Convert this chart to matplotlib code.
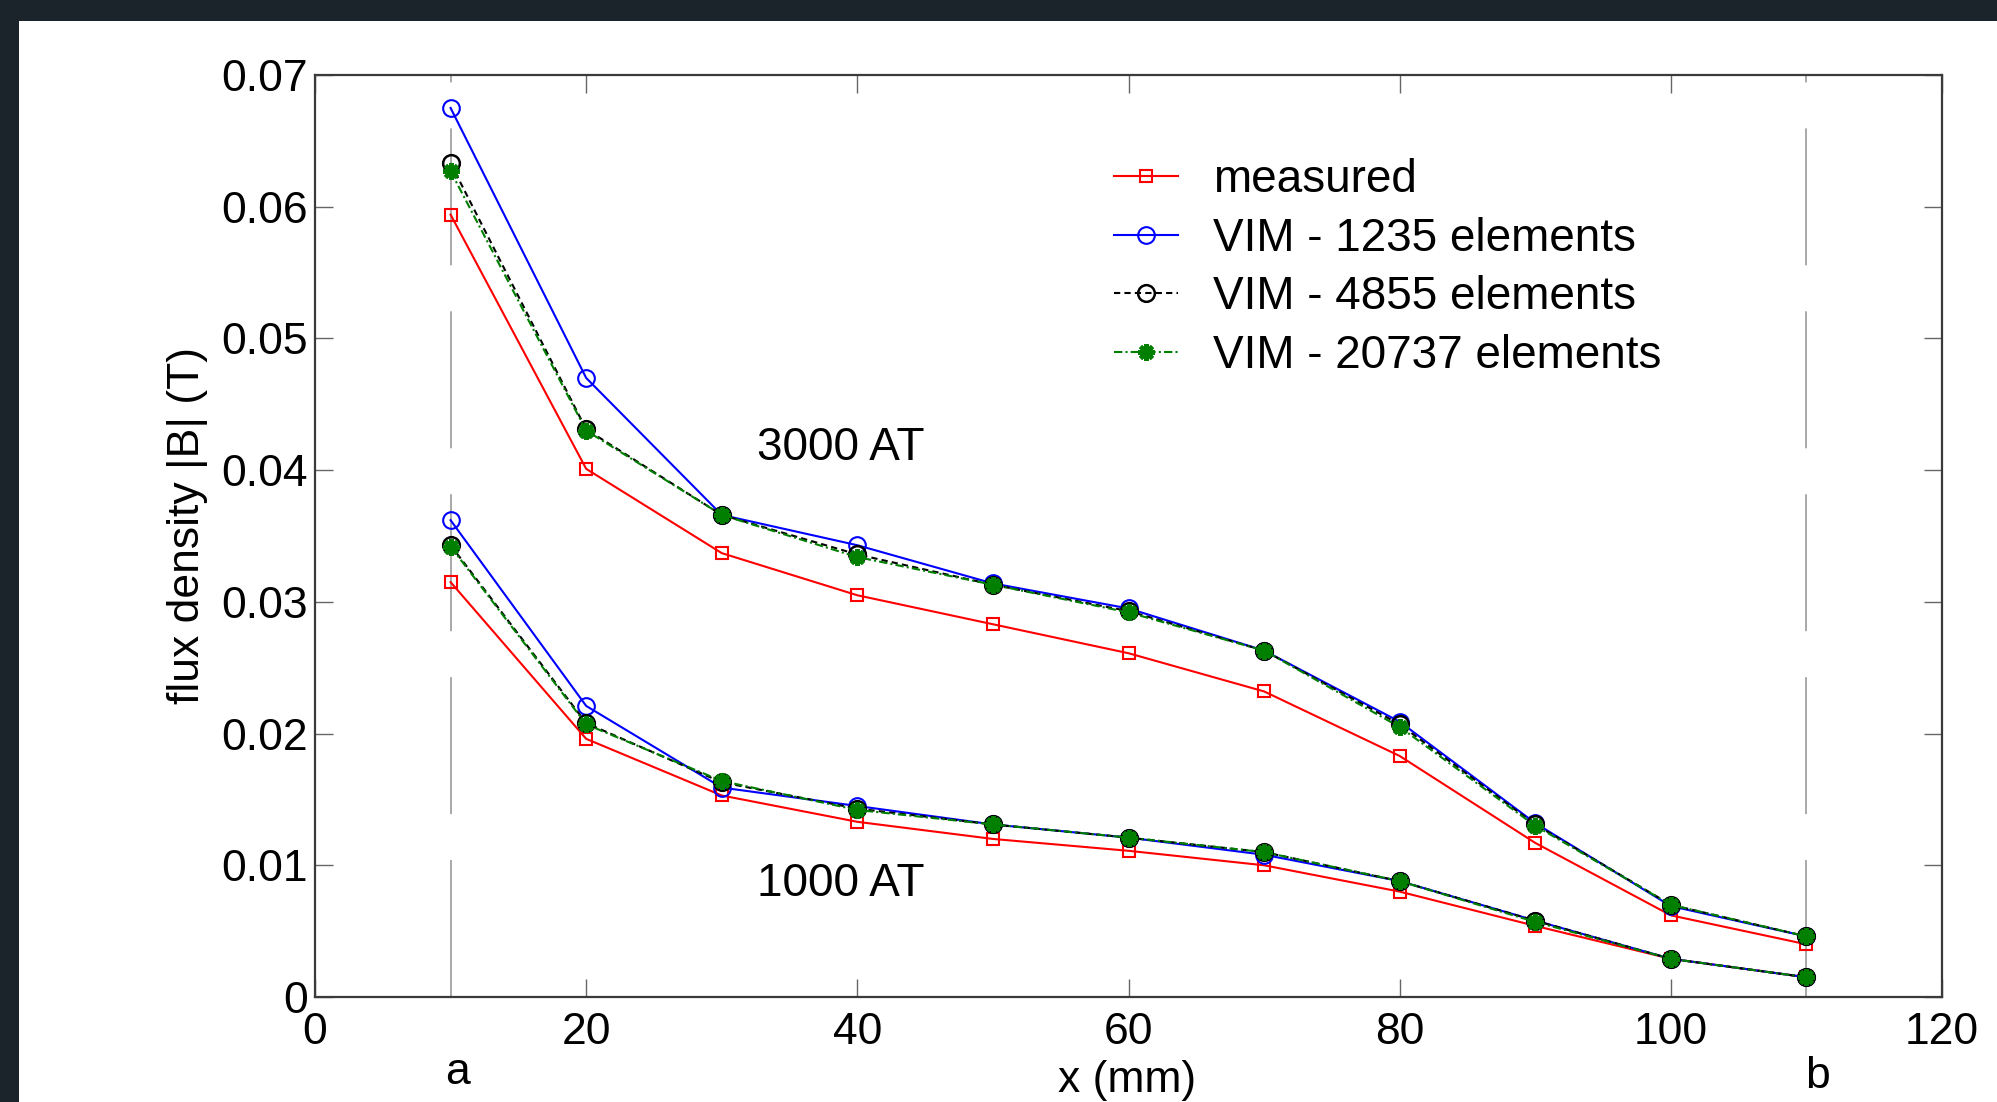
import matplotlib
matplotlib.use("Agg")
import matplotlib.pyplot as plt
from matplotlib.patches import Rectangle
from matplotlib.transforms import blended_transform_factory

plt.rcParams["font.family"] = ["Liberation Sans", "DejaVu Sans"]

# positions along the gap (mm)
x_mm = [10, 20, 30, 40, 50, 60, 70, 80, 90, 100, 110]

# 3000 AT
measured_3000 = [0.0594, 0.0401, 0.0337, 0.0305, 0.0283, 0.0261, 0.0232, 0.0183, 0.0117, 0.0062, 0.0040]
vim1235_3000 = [0.0675, 0.0470, 0.0366, 0.0343, 0.0314, 0.0295, 0.0263, 0.0209, 0.0132, 0.0069, 0.0046]
vim4855_3000 = [0.0633, 0.0431, 0.0366, 0.0336, 0.0313, 0.0293, 0.0263, 0.0207, 0.0131, 0.0070, 0.0046]
vim20737_3000 = [0.0627, 0.0430, 0.0366, 0.0334, 0.0313, 0.0292, 0.0263, 0.0205, 0.0130, 0.0070, 0.0046]

# 1000 AT
measured_1000 = [0.0315, 0.0196, 0.0153, 0.0133, 0.0120, 0.0111, 0.0100, 0.0080, 0.0054, 0.0029, 0.0015]
vim1235_1000 = [0.0362, 0.0221, 0.0159, 0.0145, 0.0131, 0.0121, 0.0108, 0.0088, 0.0058, 0.0029, 0.0015]
vim4855_1000 = [0.0343, 0.0208, 0.0163, 0.0143, 0.0131, 0.0121, 0.0110, 0.0088, 0.0058, 0.0029, 0.0015]
vim20737_1000 = [0.0342, 0.0207, 0.0164, 0.0142, 0.0131, 0.0121, 0.0110, 0.0088, 0.0057, 0.0029, 0.0015]

labels = ["measured", "VIM - 1235 elements", "VIM - 4855 elements", "VIM - 20737 elements"]
x_ticks = [0, 20, 40, 60, 80, 100, 120]
y_ticks = [0, 0.01, 0.02, 0.03, 0.04, 0.05, 0.06, 0.07]
y_ticklabels = ["0", "0.01", "0.02", "0.03", "0.04", "0.05", "0.06", "0.07"]

fig = plt.figure(figsize=(19.97, 11.02), dpi=100, facecolor="#1c242b")
fig.add_artist(Rectangle((19 / 1997, 0), 1, 1 - 21 / 1102, transform=fig.transFigure,
                         facecolor="white", edgecolor="none", zorder=0))

ax = fig.add_axes([315 / 1997, 1 - 997 / 1102, 1627 / 1997, 922 / 1102])

# dashed gray markers of points a and b
gray_lw = 1.4
ax.vlines([10, 110], 0, 0.07, colors="#a8a8a8", linewidth=gray_lw,
          linestyles=[(0, (98.6 / gray_lw, 33.1 / gray_lw))], zorder=1)

styles = [
    dict(color="#ff0000", linestyle="-", marker="s", markersize=9, markerfacecolor="none",
         markeredgewidth=1.5),
    dict(color="#0000ff", linestyle="-", marker="o", markersize=12, markerfacecolor="none",
         markeredgewidth=1.5),
    dict(color="black", linestyle=(0, (3, 2)), marker="o", markersize=12, markerfacecolor="none",
         markeredgewidth=1.8),
    dict(color="#007f00", linestyle=(0, (4, 1.5, 1, 1.5)), marker=(8, 2, 0), markersize=12,
         markeredgewidth=3),
]
series_3000 = [measured_3000, vim1235_3000, vim4855_3000, vim20737_3000]
series_1000 = [measured_1000, vim1235_1000, vim4855_1000, vim20737_1000]

for i in range(4):
    ax.plot(x_mm, series_3000[i], linewidth=1.5, label=labels[i], zorder=3 + i, **styles[i])
    ax.plot(x_mm, series_1000[i], linewidth=1.5, zorder=3 + i, **styles[i])

ax.set_xlim(0, 120)
ax.set_ylim(0, 0.07)
ax.set_xticks(x_ticks)
ax.set_yticks(y_ticks)
ax.set_yticklabels(y_ticklabels)
ax.tick_params(direction="in", length=13, width=1.0, color="#666666", labelsize=32,
               top=True, right=True)
ax.tick_params(axis="x", pad=11)
ax.tick_params(axis="y", pad=5)
for sp in ax.spines.values():
    sp.set_color("#3a3a3a")
    sp.set_linewidth(1.6)

ax.text(32.6, 0.0408, "3000 AT", fontsize=33, va="baseline", ha="left")
ax.text(32.6, 0.0077, "1000 AT", fontsize=33, va="baseline", ha="left")

trans = blended_transform_factory(ax.transData, fig.transFigure)
ax.text(10.5, 1 - 1084 / 1102, "a", fontsize=32, ha="center", va="baseline", transform=trans)
ax.text(110.8, 1 - 1088 / 1102, "b", fontsize=32, ha="center", va="baseline", transform=trans)

fig.text(1127 / 1997, 1 - 1092 / 1102, "x (mm)", fontsize=32, ha="center", va="baseline")
fig.text(187 / 1997, 1 - 525 / 1102, "flux density |B| (T)", fontsize=32, rotation=90,
         ha="center", va="center")

ax.legend(loc="upper left", bbox_to_anchor=(1114 / 1997, 1 - 158 / 1102),
          bbox_transform=fig.transFigure, frameon=False, fontsize=33, borderpad=0,
          borderaxespad=0, handlelength=1.4, handletextpad=0.75, labelspacing=0.32,
          markerscale=1.0)

fig.savefig("out.png", dpi=100, facecolor=fig.get_facecolor())
